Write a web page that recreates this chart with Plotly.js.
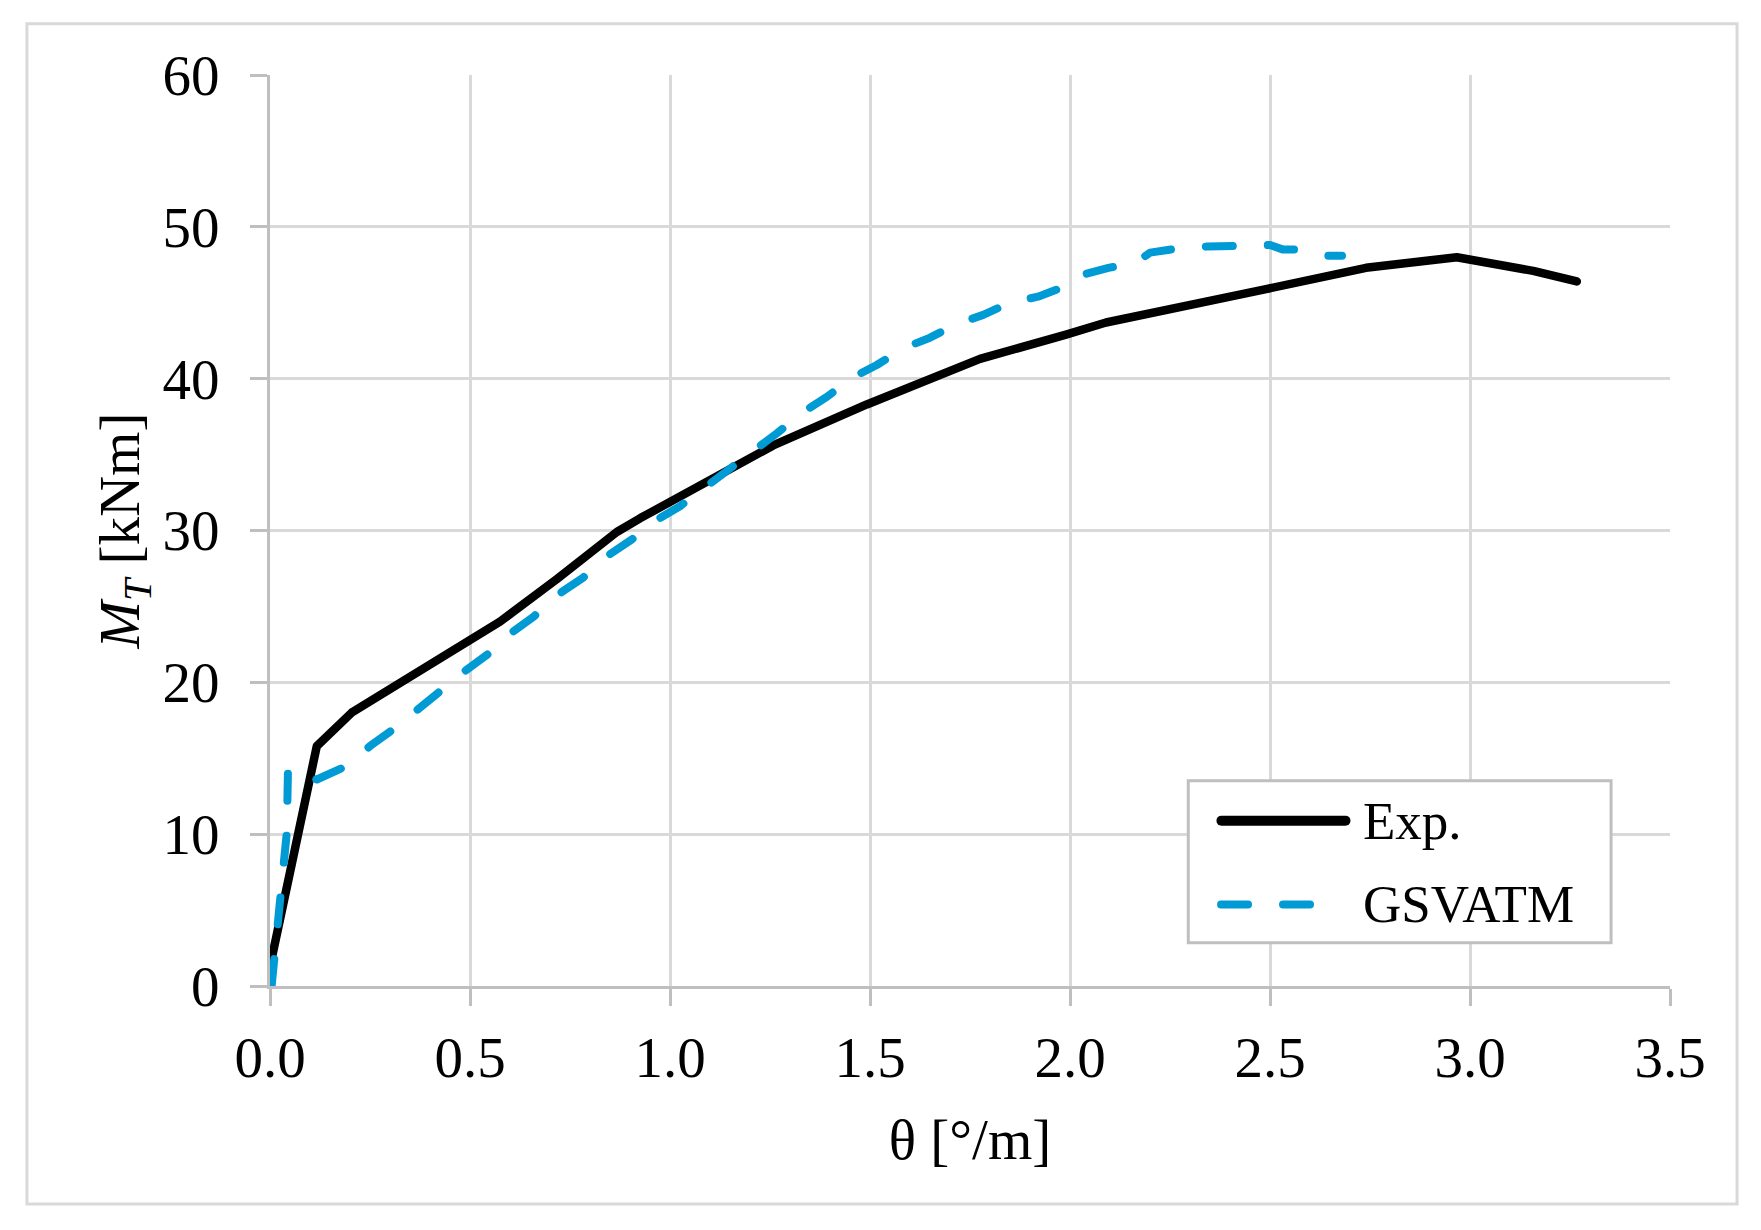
<!DOCTYPE html>
<html>
<head>
<meta charset="utf-8">
<script src="https://cdn.plot.ly/plotly-3.0.1.min.js"></script>
<style>
  html, body { margin: 0; padding: 0; background: #fff; }
  #chart { width: 1761px; height: 1230px; }
  /* Excel-like rounded line ends */
  .scatterlayer .js-line { stroke-linecap: round !important; stroke-linejoin: round !important; }
  .shapelayer path { stroke-linecap: round !important; }
</style>
</head>
<body>
<div id="chart"></div>
<script>
// Exp. (experimental curve)
const expTheta = [0.005, 0.117, 0.204, 0.483, 0.575, 0.717, 0.867, 0.925, 1.0, 1.158, 1.258,
                  1.492, 1.775, 1.99, 2.09, 2.49, 2.74, 2.967, 3.158, 3.267];
const expMT    = [1.9, 15.8, 18.0, 22.6, 24.0, 26.8, 29.9, 30.8, 31.9, 34.2, 35.6,
                  38.3, 41.3, 42.9, 43.7, 45.9, 47.3, 48.0, 47.1, 46.4];

// GSVATM (model curve)
const gsvTheta = [0.004, 0.021, 0.042, 0.045, 0.117, 0.192, 0.25, 0.313, 0.368, 0.43, 0.485,
                  0.547, 0.60, 0.658, 0.721, 0.783, 0.842, 0.904, 0.967, 1.025, 1.092, 1.15,
                  1.2125, 1.267, 1.333, 1.392, 1.458, 1.517, 1.583, 1.65, 1.717, 1.783, 1.85,
                  1.92, 1.99, 2.025, 2.096, 2.1625, 2.2, 2.275, 2.342, 2.425, 2.5, 2.533,
                  2.575, 2.642, 2.68];
const gsvMT    = [0, 4.0, 10.1, 14.3, 13.6, 14.5, 15.8, 17.0, 18.2, 19.4, 20.7,
                  21.9, 23.2, 24.3, 25.8, 26.9, 28.3, 29.4, 30.7, 31.6, 32.9, 34.0,
                  35.3, 36.4, 37.8, 38.8, 40.1, 40.9, 42.0, 42.7, 43.6, 44.2, 45.0,
                  45.4, 46.1, 46.8, 47.3, 47.6, 48.3, 48.6, 48.7, 48.7, 48.8, 48.5,
                  48.5, 48.1, 48.1];

const seriesNames = ['Exp.', 'GSVATM'];
const xTickVals = [0, 0.5, 1, 1.5, 2, 2.5, 3, 3.5];
const yTickVals = [0, 10, 20, 30, 40, 50, 60];

const serif = '"Liberation Serif", "Times New Roman", serif';
const blue = '#009ad5';
const dashPat = '27px,35px';

const traces = [
  { x: expTheta, y: expMT, name: seriesNames[0], mode: 'lines', type: 'scatter',
    line: { color: '#000000', width: 8.5 } },
  { x: gsvTheta, y: gsvMT, name: seriesNames[1], mode: 'lines', type: 'scatter',
    line: { color: blue, width: 8, dash: dashPat } }
];

// legend drawn by hand so the line samples are as long as in the original
const legendBox = { x0: 0.6559, x1: 0.9579, y0: 0.0475, y1: 0.2254 };
const shapes = [
  // outer frame around the whole chart
  { type: 'rect', xref: 'paper', yref: 'paper', x0: -0.1736, x1: 1.0479, y0: -0.2394, y1: 1.0563,
    line: { color: '#d9d9d9', width: 3 }, layer: 'below' },
  { type: 'rect', xref: 'paper', yref: 'paper', ...legendBox,
    fillcolor: '#ffffff', line: { color: '#bfbfbf', width: 3 }, layer: 'above' },
  { type: 'line', xref: 'paper', yref: 'paper', x0: 0.6796, x1: 0.7682, y0: 0.1815, y1: 0.1815,
    line: { color: '#000000', width: 10 }, layer: 'above' },
  { type: 'line', xref: 'paper', yref: 'paper', x0: 0.6793, x1: 0.7436, y0: 0.0895, y1: 0.0895,
    line: { color: blue, width: 8, dash: dashPat }, layer: 'above' }
];

const annotations = [
  { text: seriesNames[0], xref: 'paper', yref: 'paper', x: 0.7790, y: 0.1815,
    xanchor: 'left', yanchor: 'middle', showarrow: false,
    font: { family: serif, size: 53, color: '#000' } },
  { text: seriesNames[1], xref: 'paper', yref: 'paper', x: 0.7790, y: 0.0895,
    xanchor: 'left', yanchor: 'middle', showarrow: false,
    font: { family: serif, size: 53, color: '#000' } }
];

const layout = {
  width: 1761,
  height: 1230,
  margin: { l: 270, r: 91, t: 75, b: 244 },
  paper_bgcolor: '#ffffff',
  plot_bgcolor: '#ffffff',
  showlegend: false,
  font: { family: serif, size: 57, color: '#000' },
  xaxis: {
    range: [0, 3.5],
    tickvals: xTickVals,
    tickformat: '.1f',
    showgrid: true, gridcolor: '#d9d9d9', gridwidth: 3,
    zeroline: false,
    showline: true, linecolor: '#bfbfbf', linewidth: 3,
    ticks: 'outside', ticklen: 17, tickwidth: 3, tickcolor: '#bfbfbf',
    ticklabelstandoff: 3,
    tickfont: { family: serif, size: 57, color: '#000' },
    title: { text: 'θ [°/m]', font: { family: serif, size: 57, color: '#000' }, standoff: 31 }
  },
  yaxis: {
    range: [0, 60],
    tickvals: yTickVals,
    showgrid: true, gridcolor: '#d9d9d9', gridwidth: 3,
    zeroline: false,
    showline: true, linecolor: '#bfbfbf', linewidth: 3,
    ticks: 'outside', ticklen: 17, tickwidth: 3, tickcolor: '#bfbfbf',
    ticklabelstandoff: 19,
    tickfont: { family: serif, size: 57, color: '#000' },
    title: { text: '<i>M</i><sub><i>T</i></sub> [kNm]', font: { family: serif, size: 57, color: '#000' }, standoff: 5 }
  },
  shapes: shapes,
  annotations: annotations
};

Plotly.newPlot('chart', traces, layout, { staticPlot: true, displayModeBar: false });
</script>
</body>
</html>
